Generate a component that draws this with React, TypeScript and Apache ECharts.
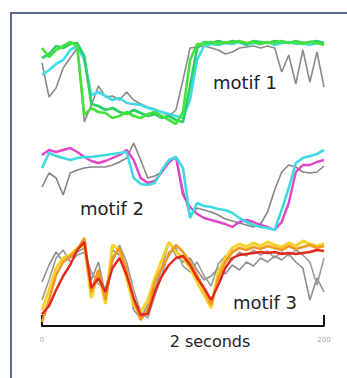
import React, { useEffect, useRef } from "react";
import * as echarts from "echarts";

const xs = [0, 5, 10, 15, 20, 25, 30, 35, 40, 45, 50, 55, 60, 65, 70, 75, 80, 85, 90, 95, 100, 105, 110, 115, 120, 125, 130, 135, 140, 145, 150, 155, 160, 165, 170, 175, 180, 185, 190, 195, 200];

const xTicks = [0, 200];
const axisTitle = "2 seconds";
const motifLabels = ["motif 1", "motif 2", "motif 3"];

// motif 1
const m1Gray = [263, 229, 238, 258, 268, 278, 204, 221, 240, 229, 230, 226, 234, 226, 222, 219, 217, 214, 210, 216, 246, 278, 279, 280, 278, 276, 272, 274, 278, 279, 280, 278, 280, 278, 254, 271, 242, 276, 244, 274, 239];
const m1Green2 = [268, 272, 280, 278, 282, 283, 270, 222, 220, 216, 218, 214, 212, 216, 213, 210, 212, 208, 210, 206, 204, 240, 278, 284, 283, 285, 283, 285, 284, 282, 285, 284, 283, 285, 284, 283, 285, 283, 284, 285, 283];
const m1Cyan = [251, 256, 262, 266, 276, 280, 266, 231, 234, 230, 226, 228, 223, 222, 221, 218, 216, 214, 212, 210, 208, 226, 266, 280, 282, 281, 283, 282, 284, 281, 283, 282, 284, 281, 283, 284, 282, 283, 281, 283, 282];
const m1Green = [278, 269, 276, 280, 284, 280, 211, 218, 214, 213, 208, 210, 214, 210, 208, 212, 214, 210, 206, 202, 214, 266, 282, 282, 284, 282, 284, 283, 285, 283, 284, 282, 284, 283, 285, 283, 284, 282, 284, 283, 281];

// motif 2
const m2Gray = [139, 153, 148, 131, 153, 156, 158, 159, 159, 159, 161, 164, 168, 183, 166, 148, 150, 154, 163, 169, 136, 110, 118, 116, 114, 111, 107, 105, 103, 101, 99, 102, 114, 136, 154, 161, 159, 154, 153, 154, 160];
const m2Cyan = [158, 173, 170, 168, 166, 168, 169, 169, 170, 171, 172, 173, 174, 148, 142, 141, 143, 156, 166, 169, 158, 108, 123, 120, 119, 117, 116, 113, 108, 104, 101, 99, 98, 96, 116, 138, 163, 168, 170, 172, 176];
const m2Magenta = [171, 176, 174, 176, 178, 174, 169, 165, 163, 165, 168, 171, 176, 166, 148, 143, 145, 154, 164, 169, 131, 119, 112, 108, 106, 104, 102, 99, 104, 106, 104, 101, 99, 96, 104, 123, 154, 161, 161, 164, 166];

// motif 3
const m3Gray1 = [44, 61, 74, 64, 68, 74, 78, 46, 64, 31, 76, 71, 56, 16, 8, 21, 36, 58, 84, 70, 64, 68, 56, 46, 50, 58, 52, 61, 56, 64, 60, 68, 64, 70, 66, 72, 64, 58, 26, 48, 34];
const m3Gray2 = [26, 46, 68, 76, 64, 71, 74, 54, 42, 38, 64, 81, 64, 36, 14, 8, 30, 51, 74, 78, 60, 54, 64, 50, 40, 62, 70, 66, 74, 70, 76, 71, 75, 68, 74, 70, 76, 71, 64, 41, 68];
const m3Yellow = [16, 36, 58, 68, 71, 78, 81, 28, 54, 22, 81, 76, 48, 21, 14, 26, 48, 66, 84, 74, 68, 58, 44, 31, 18, 54, 68, 78, 82, 79, 83, 80, 84, 81, 79, 83, 80, 85, 82, 80, 82];
const m3Orange = [4, 26, 51, 64, 70, 76, 88, 34, 56, 26, 68, 78, 56, 26, 6, 16, 44, 58, 71, 81, 74, 64, 51, 36, 21, 48, 64, 74, 78, 76, 79, 77, 80, 78, 76, 80, 77, 79, 81, 78, 80];
const m3Red = [12, 20, 36, 50, 61, 76, 84, 38, 48, 34, 58, 68, 51, 28, 11, 12, 34, 50, 61, 68, 70, 61, 48, 38, 26, 41, 58, 68, 71, 72, 73, 74, 73, 74, 72, 73, 72, 73, 74, 76, 75];

const seriesDefs: { data: number[]; color: string; width: number }[] = [
  { data: m1Gray, color: "#8a8a8a", width: 1.6 },
  { data: m1Cyan, color: "#40dde6", width: 2.6 },
  { data: m1Green2, color: "#2bcf66", width: 2.6 },
  { data: m1Green, color: "#45e23c", width: 2.6 },
  { data: m2Gray, color: "#858585", width: 1.6 },
  { data: m2Magenta, color: "#e045c8", width: 2.4 },
  { data: m2Cyan, color: "#3fd9e2", width: 2.6 },
  { data: m3Gray1, color: "#8f8f8f", width: 1.6 },
  { data: m3Gray2, color: "#9a9a9a", width: 1.6 },
  { data: m3Yellow, color: "#f7d12c", width: 3 },
  { data: m3Orange, color: "#f39a22", width: 2.6 },
  { data: m3Red, color: "#e4281c", width: 2.4 },
];

export default function App() {
  const ref = useRef<HTMLDivElement>(null);
  useEffect(() => {
    if (!ref.current) return;
    const chart = echarts.init(ref.current, null, { renderer: "svg" });
    const labelFont = "DejaVu Sans, sans-serif";
    chart.setOption({
      animation: false,
      backgroundColor: "#ffffff",
      grid: { left: 42, right: 23, top: 36, bottom: 52 },
      xAxis: {
        type: "value",
        min: xTicks[0],
        max: xTicks[1],
        interval: xTicks[1] - xTicks[0],
        axisLine: { show: true, lineStyle: { color: "#111", width: 2 } },
        axisTick: { show: true, inside: true, length: 11, lineStyle: { color: "#111", width: 2 } },
        axisLabel: { fontSize: 7, color: "#aaaaaa", margin: 10, fontFamily: labelFont },
        splitLine: { show: false },
      },
      yAxis: { type: "value", min: 0, max: 290, show: false },
      series: seriesDefs.map((s) => ({
        type: "line",
        data: xs.map((x, i) => [x, s.data[i]]),
        showSymbol: false,
        symbol: "none",
        lineStyle: { color: s.color, width: s.width },
        itemStyle: { color: s.color },
      })),
      graphic: [
        {
          type: "rect",
          silent: true,
          shape: { x: 11, y: 13, width: 345, height: 380 },
          style: { fill: "none", stroke: "#5c6b85", lineWidth: 2 },
          z: 10,
        },
        {
          type: "text",
          x: 245,
          y: 82,
          z: 20,
          style: { text: motifLabels[0], fontSize: 18, fontFamily: labelFont, fill: "#222", align: "center", verticalAlign: "middle" },
        },
        {
          type: "text",
          x: 112,
          y: 208,
          z: 20,
          style: { text: motifLabels[1], fontSize: 18, fontFamily: labelFont, fill: "#222", align: "center", verticalAlign: "middle" },
        },
        {
          type: "text",
          x: 265,
          y: 302,
          z: 20,
          style: { text: motifLabels[2], fontSize: 18, fontFamily: labelFont, fill: "#222", align: "center", verticalAlign: "middle" },
        },
        {
          type: "text",
          x: 210,
          y: 341,
          z: 20,
          style: { text: axisTitle, fontSize: 16, fontFamily: labelFont, fill: "#222", align: "center", verticalAlign: "middle" },
        },
      ],
    });
    return () => chart.dispose();
  }, []);
  return (
    <div
      ref={ref}
      style={{ position: "fixed", left: 0, top: 0, width: 347, height: 378, background: "#fff" }}
    />
  );
}
